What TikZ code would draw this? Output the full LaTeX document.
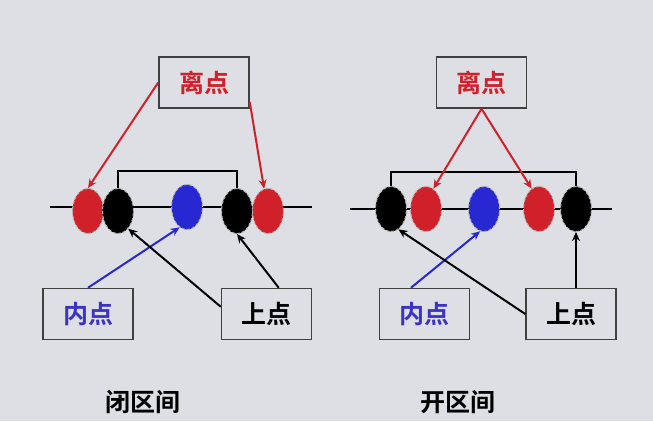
\documentclass[tikz,border=0pt]{standalone}
\usepackage{fontspec}
\usepackage{xcolor}
\usepackage{tikz}
\setmainfont{Noto Sans CJK SC}
\newfontfamily\cjkbold{Noto Sans CJK SC Bold}
\usetikzlibrary{shapes,arrows,positioning,calc,arrows.meta}

\definecolor{bgcol}{RGB}{222,223,228}
\definecolor{ptred}{RGB}{208,32,42}
\definecolor{ptblue}{RGB}{40,40,210}
\definecolor{txtblue}{RGB}{60,50,200}

\tikzset{
    pt/.style={ellipse, draw=gray!60, densely dashed, line width=1pt,
        minimum width=31pt, minimum height=45pt, inner sep=0pt},
    lbox/.style={rectangle, draw=black!75, line width=1.5pt,
        minimum width=90pt, minimum height=51pt, font=\cjkbold\fontsize{25}{25}\selectfont},
    arr/.style={-{Stealth[length=9pt,width=8pt]}, line width=2pt},
    title/.style={font=\cjkbold\fontsize{25}{25}\selectfont}
}

\begin{document}
\begin{tikzpicture}[x=1pt, y=-1pt]
    \fill[bgcol] (0,0) rectangle (653,421);
    \useasboundingbox (0,0) rectangle (653,421);

    % Closed interval
    \draw[line width=1.5pt] (50,207) -- (312,207);
    \node[pt, fill=ptred] (ar1) at (88,211) {};
    \node[pt, fill=black] (ak1) at (118,211) {};
    \node[pt, fill=ptblue] (ab) at (187,207) {};
    \node[pt, fill=black] (ak2) at (237,211) {};
    \node[pt, fill=ptred] (ar2) at (268,211) {};
    \draw[line width=1.5pt] (ak1.north) -- ++(0,-17) -| (ak2.north);

    \node[lbox, text=ptred] (ald) at (204,82.5) {离点};
    \node[lbox, text=txtblue] (anp) at (88,314) {内点};
    \node[lbox] (asp) at (266.5,314) {上点};

    \draw[arr, ptred] (ald.west) -- (ar1.north);
    \draw[arr, ptred] (ald.-23) -- (ar2.100);
    \draw[arr, ptblue] (anp.north) -- (ab.250);
    \draw[arr] (asp.171) -- (ak1.300);
    \draw[arr] (asp.65) -- (ak2.south);
    \node[title] (atitle) at (143,402) {闭区间};

    % Open interval
    \draw[line width=1.5pt] (350,209) -- (612,209);
    \node[pt, fill=black] (bk1) at (391,209) {};
    \node[pt, fill=ptred] (br1) at (426,209) {};
    \node[pt, fill=ptblue] (bb) at (484,209) {};
    \node[pt, fill=ptred] (br2) at (539,209) {};
    \node[pt, fill=black] (bk2) at (576,209) {};
    \draw[line width=1.5pt] (bk1.north) -- ++(0,-14) -| (bk2.north);

    \node[lbox, text=ptred] (bld) at (481.5,82.5) {离点};
    \node[lbox, text=txtblue] (bnp) at (424.5,314) {内点};
    \node[lbox] (bsp) at (571,314) {上点};

    \draw[arr, ptred] (bld.south) -- (br1.70);
    \draw[arr, ptred] (bld.south) -- (br2.110);
    \draw[arr, ptblue] (bnp.north -| 411,0) -- (bb.260);
    \draw[arr] (bsp.west) -- (bk1.290);
    \draw[arr] (bsp.north -| bk2) -- (bk2.south);
    \node[title] (btitle) at (458,402) {开区间};
\end{tikzpicture}
\end{document}
